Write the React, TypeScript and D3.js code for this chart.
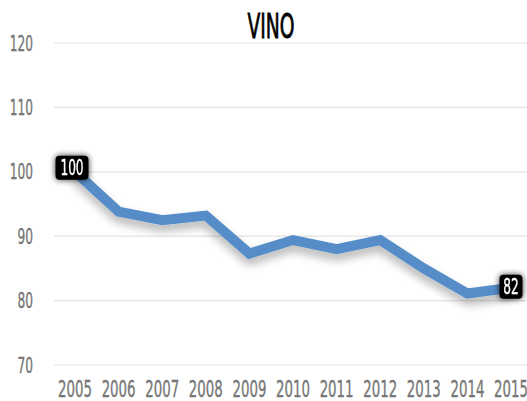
import React from "react";
import * as d3 from "d3";

const years = ["2005","2006","2007","2008","2009","2010","2011","2012","2013","2014","2015"];
const values = [100, 93.8, 92.5, 93.2, 87.3, 89.4, 88.0, 89.4, 85.0, 81.1, 82];
const yTicks = [70, 80, 90, 100, 110, 120];
const labeled = [0, 10];
const labelText = ["100", "82"];

const W = 527, H = 401;
const FONT = "'DejaVu Sans', sans-serif";
const SX = 0.58;

function CText(props: { x: number; y: number; size: number; fill: string; anchor?: string; children: React.ReactNode; sx?: number; weight?: string; stroke?: number }) {
  const s = props.sx ?? SX;
  return (
    <text
      transform={`translate(${props.x},${props.y}) scale(${s},1)`}
      textAnchor={props.anchor ?? "middle"}
      fontFamily={FONT}
      fontSize={props.size}
      fontWeight={props.weight ?? "normal"}
      fill={props.fill}
      stroke={props.stroke ? props.fill : undefined}
      strokeWidth={props.stroke}
    >
      {props.children}
    </text>
  );
}

export default function App() {
  const x = d3.scalePoint<string>().domain(years).range([75, 511]);
  const y = d3.scaleLinear().domain([70, 120]).range([365, 43]);
  const line = d3.line<number>().x((_, i) => x(years[i])!).y(d => y(d));
  return (
    <svg width={W} height={H} style={{ position: "absolute", left: 0, top: 0 }}>
      <defs>
        <filter id="sh" x="-20%" y="-50%" width="140%" height="200%">
          <feGaussianBlur in="SourceAlpha" stdDeviation="5" />
          <feOffset dx="0" dy="6" result="b" />
          <feComponentTransfer><feFuncA type="linear" slope="0.3" /></feComponentTransfer>
          <feMerge><feMergeNode /><feMergeNode in="SourceGraphic" /></feMerge>
        </filter>
        <filter id="glow" x="-50%" y="-50%" width="200%" height="200%">
          <feGaussianBlur in="SourceAlpha" stdDeviation="3" />
          <feComponentTransfer><feFuncA type="linear" slope="0.8" /></feComponentTransfer>
          <feMerge><feMergeNode /><feMergeNode in="SourceGraphic" /></feMerge>
        </filter>
      </defs>
      <rect width={W} height={H} fill="#fff" />
      <CText x={271} y={38} size={34} fill="#000" sx={0.55} stroke={0.9}>VINO</CText>
      {yTicks.map(t => (
        <g key={t}>
          <line x1={54} x2={527} y1={y(t)} y2={y(t)} stroke="#e3e3e3" strokeWidth={1.2} />
          <CText x={33} y={y(t) + 7.5} size={21} fill="#777" anchor="end" stroke={0.4}>{t}</CText>
        </g>
      ))}
      {years.map(yr => (
        <CText key={yr} x={x(yr)!} y={397} size={23} fill="#777" stroke={0.4}>{yr}</CText>
      ))}
      <path d={line(values)!} fill="none" stroke="#568dc8" strokeWidth={10} strokeLinejoin="miter" filter="url(#sh)" />
      {labeled.map((idx, k) => {
        const cx = x(years[idx])!;
        const cy = y(values[idx]);
        const w = labelText[k].length * 10 + 3;
        const left = idx === 10 ? Math.min(cx - w / 2, W - w) : cx - w / 2 - 3;
        const top = cy - (idx === 0 ? 16 : 13);
        return (
          <g key={idx} filter="url(#glow)">
            <rect x={left} y={top} width={w} height={24} rx={4} fill="#000" />
            <CText x={left + w / 2} y={top + 19} size={21} fill="#fff" stroke={0.4}>{labelText[k]}</CText>
          </g>
        );
      })}
    </svg>
  );
}
